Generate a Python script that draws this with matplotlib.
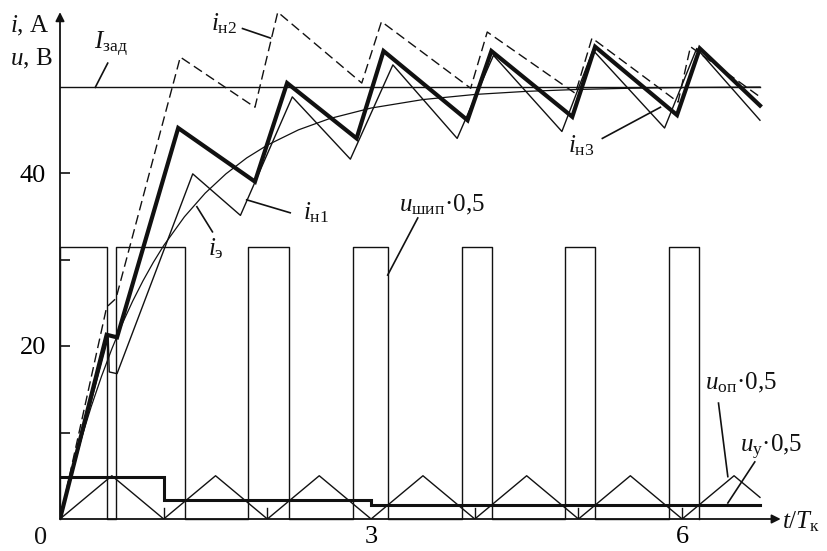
import matplotlib
matplotlib.use("Agg")
import matplotlib.pyplot as plt

# ---------------- data ----------------
# setpoint current
t_set = [0.0, 6.75]
i_set = [50.0, 50.0]

# current i_н1 (thin sawtooth)
t_in1 = [0, 0.465, 0.475, 0.55, 1.28, 1.74, 2.24, 2.80, 3.21, 3.83, 4.18, 4.84, 5.14, 5.83, 6.14, 6.75]
i_in1 = [0, 21.0, 17.0, 16.8, 39.9, 35.1, 48.8, 41.6, 52.5, 44.0, 53.6, 44.8, 54.2, 45.2, 54.4, 46.1]

# current i_н2 (dashed)
t_in2 = [0, 0.45, 0.54, 1.16, 1.88, 2.10, 2.91, 3.10, 3.96, 4.12, 4.97, 5.13, 5.96, 6.08, 6.75]
i_in2 = [0, 24.5, 25.5, 53.4, 47.6, 58.6, 50.4, 57.5, 49.8, 56.3, 49.2, 55.6, 48.2, 54.6, 48.8]

# current i_н3 (thick)
t_in3 = [0, 0.45, 0.55, 1.14, 1.88, 2.19, 2.86, 3.12, 3.93, 4.16, 4.94, 5.16, 5.95, 6.17, 6.75]
i_in3 = [0, 21.3, 21.0, 45.2, 39.0, 50.4, 44.0, 54.1, 46.1, 54.1, 46.5, 54.6, 46.7, 54.4, 47.8]

# equivalent current i_э (smooth)
t_ie = [0, 0.1, 0.2, 0.3, 0.4, 0.5, 0.6, 0.7, 0.8, 0.9, 1.0, 1.2, 1.4, 1.6, 1.8,
        2.0, 2.3, 2.6, 3.0, 3.5, 4.0, 4.5, 5.0, 5.5, 6.0, 6.75]
i_ie = [0, 4.76, 9.06, 12.96, 16.48, 19.67, 22.56, 25.17, 27.53, 29.67, 31.61,
        34.94, 37.67, 39.90, 41.74, 43.23, 44.99, 46.29, 47.51, 48.49, 49.08,
        49.44, 49.66, 49.80, 49.88, 49.94]

# PWM pulses u_шип·0,5
pulse_on = [0.0, 0.54, 1.81, 2.83, 3.88, 4.87, 5.87]
pulse_off = [0.455, 1.21, 2.21, 3.16, 4.17, 5.16, 6.16]
pulse_level = 31.4

# reference triangle u_оп·0,5
t_op = [0, 0.5, 1, 1.5, 2, 2.5, 3, 3.5, 4, 4.5, 5, 5.5, 6, 6.5, 6.75]
u_op = [0, 5.0, 0, 5.0, 0, 5.0, 0, 5.0, 0, 5.0, 0, 5.0, 0, 5.0, 2.5]

# control voltage u_у·0,5 (steps)
t_y = [0, 1.0, 1.0, 3.0, 3.0, 6.75]
u_y = [4.9, 4.9, 2.2, 2.2, 1.65, 1.65]

# small marks at triangle minima
mark_t = [1, 2, 4, 5, 6]
mark_h = 1.3

x_ticks = [3, 6]
x_ticklabels = ["3", "6"]
y_ticks = [10, 20, 30, 40]
y_ticklabels = ["", "20", "", "40"]

# ---------------- drawing ----------------
plt.rcParams['font.family'] = ['Liberation Serif', 'DejaVu Serif']
plt.rcParams['mathtext.fontset'] = 'custom'
plt.rcParams['mathtext.rm'] = 'Liberation Serif'
plt.rcParams['mathtext.it'] = 'Liberation Serif:italic'
plt.rcParams['mathtext.bf'] = 'Liberation Serif:bold'

W, H = 828, 551
fig = plt.figure(figsize=(W / 100, H / 100), dpi=100)
x0, y0 = 60, 519
sx, sy = 103.7, 8.65
xmax, ymax = 7.0, 59.0
ax = fig.add_axes([x0 / W, (H - y0) / H, xmax * sx / W, ymax * sy / H])
ax.set_xlim(0, xmax)
ax.set_ylim(0, ymax)
for s in ax.spines.values():
    s.set_visible(False)

col = '#111111'
FS_TICK = 19
FS_LAB = 18

# axes with arrows
ax.annotate('', xy=(0, 58.6), xytext=(0, 0),
            arrowprops=dict(arrowstyle='-|>', lw=1.3, color=col, mutation_scale=13,
                            shrinkA=0, shrinkB=0), annotation_clip=False)
ax.annotate('', xy=(6.95, 0), xytext=(0, 0),
            arrowprops=dict(arrowstyle='-|>', lw=1.3, color=col, mutation_scale=13,
                            shrinkA=0, shrinkB=0), annotation_clip=False)

# ticks
ax.set_xticks(x_ticks)
ax.set_xticklabels(x_ticklabels, fontsize=FS_TICK)
ax.tick_params(axis='x', length=0, pad=5)
ax.set_yticks(y_ticks)
ax.set_yticklabels(y_ticklabels, fontsize=FS_TICK)
ax.tick_params(axis='y', direction='in', length=7.5, width=1.2, color=col, pad=10)
ax.text(-0.19, -0.9, "0", fontsize=FS_TICK, ha='center', va='top', color=col)

# pulses
px, py = [], []
for a, b in zip(pulse_on, pulse_off):
    px += [a, a, b, b]
    py += [0, pulse_level, pulse_level, 0]
ax.plot(px, py, color=col, lw=1.0, clip_on=False)

# triangle and control voltage
ax.plot(t_op, u_op, color=col, lw=1.0)
ax.plot(t_y, u_y, color=col, lw=2.2, solid_joinstyle='miter')
for m in mark_t:
    ax.plot([m, m], [0, mark_h], color=col, lw=1.0)

# setpoint
ax.plot(t_set, i_set, color=col, lw=1.0)

# currents
ax.plot(t_ie, i_ie, color=col, lw=0.9)
ax.plot(t_in1, i_in1, color=col, lw=1.0)
ax.plot(t_in2, i_in2, color=col, lw=1.0, dashes=(7, 3.5))
ax.plot(t_in3, i_in3, color=col, lw=3.0, solid_joinstyle='miter')

# axis labels
ax.text(-0.29, 57.0, r'$i$, А', fontsize=FS_LAB, ha='center', va='center', color=col)
ax.text(-0.28, 53.2, r'$u$, В', fontsize=FS_LAB, ha='center', va='center', color=col)
ax.text(6.96, -0.3, r'$t/T_{\mathrm{к}}$', fontsize=FS_LAB, ha='left', va='center', color=col)

# curve labels with pointer lines
labels = [
    (r'$I_{\mathrm{зад}}$', (0.49, 54.9), (0.46, 52.7), (0.34, 49.9)),
    (r'$i_{\mathrm{н2}}$', (1.58, 57.3), (1.76, 56.7), (2.03, 55.6)),
    (r'$i_{\mathrm{н1}}$', (2.47, 35.4), (2.22, 35.4), (1.80, 36.9)),
    (r'$i_{\mathrm{э}}$', (1.50, 31.3), (1.47, 33.2), (1.32, 36.1)),
    (r'$i_{\mathrm{н3}}$', (5.03, 43.1), (5.23, 44.0), (5.79, 47.6)),
    (r'$u_{\mathrm{шип}}\mathrm{·0{,}5}$', (3.68, 36.3), (3.45, 34.8), (3.16, 28.2)),
    (r'$u_{\mathrm{оп}}\mathrm{·0{,}5}$', (6.57, 15.7), (6.35, 13.4), (6.44, 4.9)),
    (r'$u_{\mathrm{у}}\mathrm{·0{,}5}$', (6.86, 8.3), (6.70, 6.6), (6.44, 1.85)),
]
for txt, pos, p0, p1 in labels:
    ax.text(pos[0], pos[1], txt, fontsize=FS_LAB, ha='center', va='center', color=col)
    ax.plot([p0[0], p1[0]], [p0[1], p1[1]], color=col, lw=1.2, clip_on=False)

fig.savefig('out.png', dpi=100, facecolor='white')
